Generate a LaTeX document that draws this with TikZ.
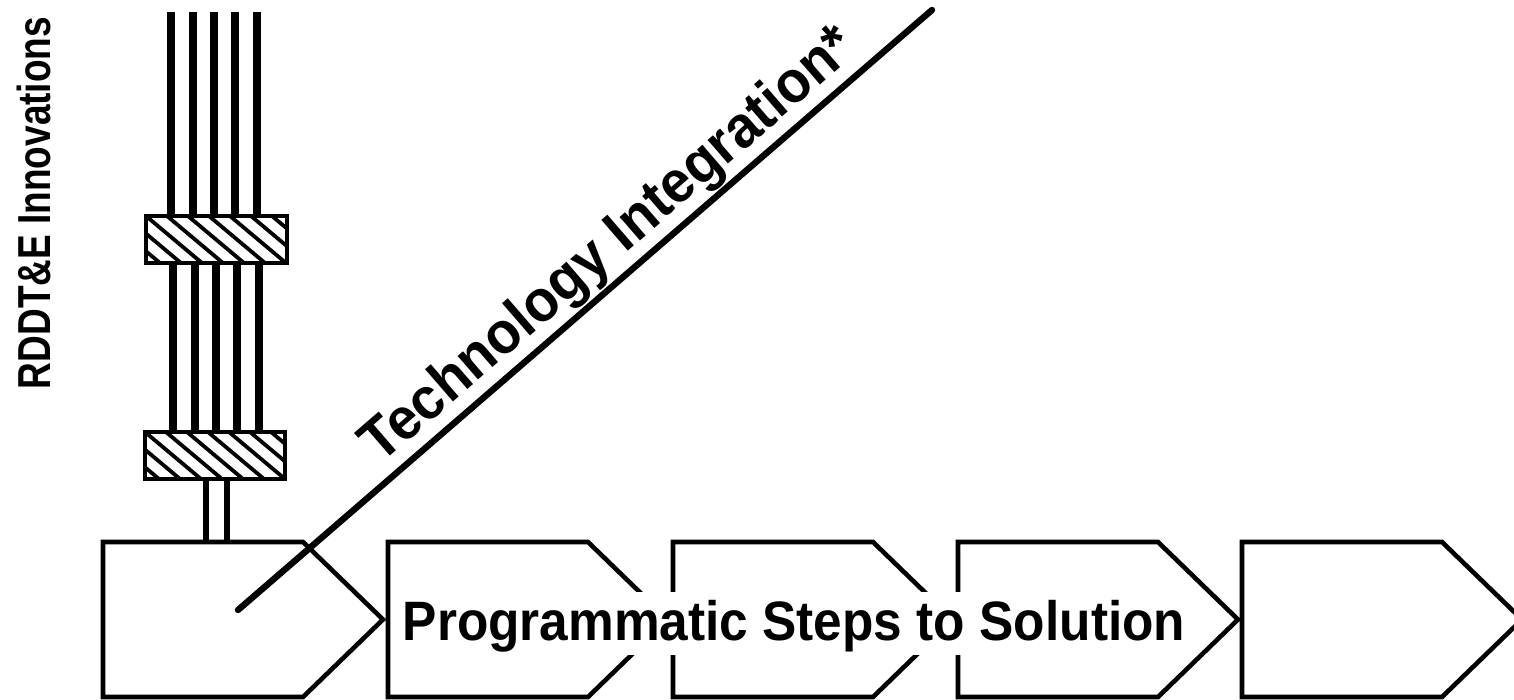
\documentclass[tikz,border=0pt]{standalone}
\usepackage{fontspec}
\setmainfont{Liberation Sans}
\begin{document}
\begin{tikzpicture}[x=0.5pt,y=-0.5pt,
  boxline/.style={line width=2.3pt, line join=miter},
  barline/.style={line width=4pt},
  tubeline/.style={line width=3pt},
  hatchframe/.style={line width=2.2pt},
  hatchline/.style={line width=1.9pt},
  techline/.style={line width=3.2pt, line cap=round},
  biglabel/.style={font=\bfseries\fontsize{25.7}{30}\selectfont, inner sep=0pt},
  techlabel/.style={font=\bfseries\fontsize{27.8}{32}\selectfont, inner sep=0pt},
  sidelabel/.style={font=\bfseries\fontsize{18.5}{22}\selectfont, inner sep=0pt}]
\useasboundingbox (0,0) rectangle (1514,700);
% step boxes
\foreach \i/\l in {1/103,2/388,3/673,4/958,5/1242}{
  \coordinate (b\i) at (\l,542);
  \draw[boxline] (b\i) -- ++(200,0) -- ++(80,77.5) -- ++(-80,77.5) -- ++(-200,0) -- cycle;
}
% label over the boxes
\node[biglabel, fill=white, anchor=base, text height=24pt, text depth=7.5pt, inner xsep=4pt] (steps) at (794,640) {\scalebox{1}[1.08]{Programmatic Steps to Solution}};
% bars on top
\foreach \x in {171,193,214,235,257}{
  \draw[barline] (\x,12) -- (\x,216);
  \draw[barline] (\x+1.5,263) -- (\x+1.5,432);
}
\draw[tubeline] (206,479) -- (206,542);
\draw[tubeline] (227,479) -- (227,542);
% hatched collars
\foreach \t/\lft/\rgt/\bot in {216/146/287/263, 432/145/285/479}{
  \fill[white] (\lft,\t) rectangle (\rgt,\bot);
  \begin{scope}
    \clip (\lft,\t) rectangle (\rgt,\bot);
    \foreach \k in {-4,...,7}
      \draw[hatchline] (\lft+\k*21,\t) -- ++(56,47);
  \end{scope}
  \draw[hatchframe] (\lft,\t) rectangle (\rgt,\bot);
}
% technology integration line
\coordinate (tstart) at (238,610);
\coordinate (tend) at (932,10);
\draw[techline] (tstart) -- (tend);
\node[techlabel, rotate=40.85, anchor=base] (tech) at (620,258) {\scalebox{1}[1.06]{Technology Integration*}};
% side label
\node[sidelabel, rotate=90, anchor=base] (rddt) at (50,203) {\scalebox{1}[1.25]{RDDT\&E Innovations}};
\end{tikzpicture}
\end{document}
